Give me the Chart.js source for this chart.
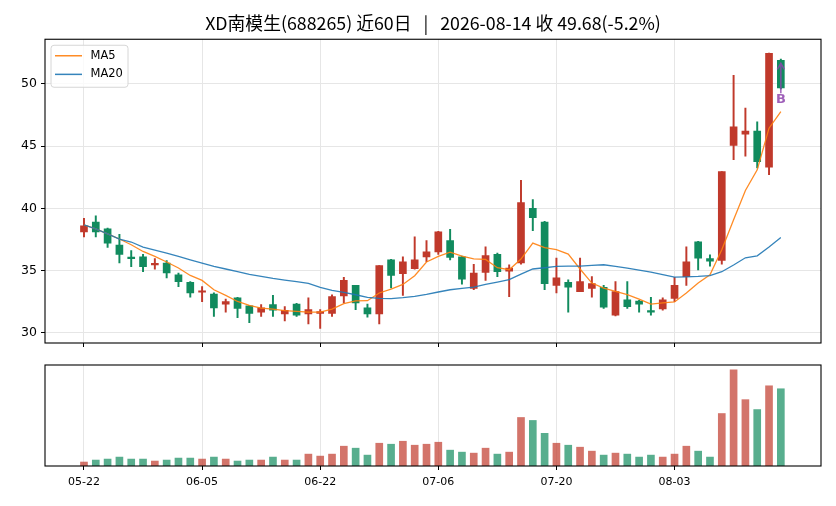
<!DOCTYPE html>
<html>
<head>
<meta charset="utf-8">
<script src="https://cdn.jsdelivr.net/npm/chart.js@4.4.1/dist/chart.umd.min.js"></script>
<style>
  html, body { margin: 0; padding: 0; background: #fff; }
  #wrap { position: relative; width: 836px; height: 506px; }
  #priceBox { position: absolute; left: 0; top: 0; width: 836px; height: 350px; }
  #volBox { position: absolute; left: 0; top: 350px; width: 836px; height: 156px; }
</style>
</head>
<body>
<div id="wrap">
  <div id="priceBox"><canvas id="price"></canvas></div>
  <div id="volBox"><canvas id="vol"></canvas></div>
</div>
<script>
// 60 trading days, 2026-05-22 .. 2026-08-14
const dates = [
  '05-22', '05-25', '05-26', '05-27', '05-28', '05-29', '06-01', '06-02', '06-03', '06-04',
  '06-05', '06-08', '06-09', '06-10', '06-11', '06-12', '06-15', '06-16', '06-17', '06-18',
  '06-22', '06-23', '06-24', '06-25', '06-26', '06-29', '06-30', '07-01', '07-02', '07-03',
  '07-06', '07-07', '07-08', '07-09', '07-10', '07-13', '07-14', '07-15', '07-16', '07-17',
  '07-20', '07-21', '07-22', '07-23', '07-24', '07-27', '07-28', '07-29', '07-30', '07-31',
  '08-03', '08-04', '08-05', '08-06', '08-07', '08-10', '08-11', '08-12', '08-13', '08-14'
];
const opens = [
  38.1, 38.9, 38.35, 37.05, 36.0, 36.1, 35.45, 35.6, 34.65, 34.05,
  33.25, 33.1, 32.3, 32.8, 32.15, 31.65, 32.25, 31.5, 32.3, 31.5,
  31.55, 31.55, 32.95, 33.8, 32.0, 31.5, 35.85, 34.75, 35.15, 36.1,
  36.5, 37.4, 36.1, 33.55, 34.85, 36.3, 34.95, 35.6, 40.0, 38.9,
  33.8, 34.05, 33.3, 33.55, 33.65, 31.4, 32.65, 32.55, 31.75, 31.9,
  32.75, 34.5, 37.3, 35.95, 35.8, 45.05, 45.95, 46.2, 43.3, 51.9
];
const highs = [
  39.2, 39.4, 38.4, 37.9, 36.6, 36.3, 35.95, 35.8, 34.8, 34.1,
  33.7, 33.2, 32.7, 32.85, 32.2, 32.25, 33.0, 32.1, 32.35, 32.8,
  31.85, 33.05, 34.45, 33.8, 32.3, 35.4, 35.9, 36.1, 37.7, 37.4,
  38.15, 38.3, 36.15, 35.5, 36.9, 36.4, 35.45, 42.25, 40.7, 38.95,
  36.0, 34.25, 36.0, 34.5, 33.8, 34.1, 34.1, 32.6, 32.85, 32.8,
  34.45, 36.9, 37.35, 36.25, 42.95, 50.7, 48.05, 46.95, 52.48, 52.0
];
const lows = [
  37.7, 37.7, 36.85, 35.6, 35.3, 34.9, 35.1, 34.4, 33.7, 32.85,
  32.5, 31.3, 31.65, 31.2, 30.8, 31.3, 31.3, 30.95, 31.3, 30.7,
  30.35, 31.3, 32.4, 31.85, 31.25, 30.7, 33.6, 33.0, 35.1, 35.7,
  36.3, 35.85, 33.9, 33.45, 34.2, 34.5, 32.9, 35.5, 38.2, 33.45,
  33.2, 31.65, 33.3, 32.85, 31.95, 31.35, 31.95, 31.65, 31.4, 31.8,
  32.5, 33.8, 35.05, 35.35, 35.5, 43.9, 44.2, 43.25, 42.7, 49.6
];
const closes = [
  38.6, 38.1, 37.2, 36.3, 35.95, 35.3, 35.5, 34.8, 34.1, 33.2,
  33.3, 32.0, 32.5, 31.95, 31.55, 32.0, 31.8, 31.8, 31.4, 31.85,
  31.7, 32.9, 34.2, 32.4, 31.5, 35.4, 34.6, 35.7, 35.85, 36.5,
  38.1, 36.05, 34.3, 34.8, 36.2, 34.9, 35.2, 40.45, 39.25, 33.95,
  34.4, 33.65, 34.1, 33.95, 32.05, 33.3, 32.1, 32.3, 31.65, 32.65,
  33.8, 35.7, 36.0, 35.75, 42.95, 46.55, 46.2, 43.75, 52.45, 49.68
];
const ma5 = [
  38.67, 38.35, 37.95, 37.53, 37.07, 36.53, 36.13, 35.68, 35.2, 34.6,
  34.2, 33.45, 33.0, 32.51, 32.19, 31.98, 31.9, 31.77, 31.71, 31.66,
  31.66, 31.9, 32.33, 32.55, 32.57, 33.19, 33.51, 33.88, 34.58, 35.68,
  36.13, 36.48, 36.16, 35.94, 35.89, 35.22, 35.06, 35.92, 37.2, 36.83,
  36.67, 36.32, 35.12, 33.99, 33.59, 33.32, 33.05, 32.7, 32.3, 32.39,
  32.47, 33.19, 33.99, 34.66, 36.67, 39.08, 41.43, 43.09, 46.44, 47.78
];
const ma20 = [
  38.67, 38.35, 37.95, 37.53, 37.29, 36.88, 36.64, 36.4, 36.13, 35.86,
  35.6, 35.33, 35.12, 34.9, 34.68, 34.52, 34.36, 34.23, 34.1, 33.97,
  33.64, 33.4, 33.24, 33.05, 32.84, 32.76, 32.73, 32.81, 32.92, 33.08,
  33.27, 33.45, 33.56, 33.67, 33.88, 34.07, 34.26, 34.71, 35.12, 35.22,
  35.33, 35.35, 35.35, 35.41, 35.46, 35.33, 35.19, 35.03, 34.87, 34.66,
  34.47, 34.49, 34.52, 34.58, 34.9, 35.44, 36.02, 36.18, 36.88, 37.65
];
const volumes = [
  4, 6, 7, 9, 7, 7, 5, 6, 8, 8,
  7, 9, 7, 5, 6, 6, 9, 6, 6, 12,
  10, 12, 20, 18, 11, 23, 22, 25, 21, 22,
  24, 16, 14, 13, 18, 12, 14, 49, 46, 33,
  23, 21, 19, 15, 11, 13, 12, 9, 11, 9,
  12, 20, 15, 9, 53, 97, 67, 57, 81, 78
];
const tickIdx = [0, 10, 20, 30, 40, 50];
const priceTicks = [30, 35, 40, 45, 50];
const titleText = 'XD南模生(688265) 近60日   |   2026-08-14 收 49.68(-5.2%)';

// buy marker on the last bar
const markIdx = 59;
const markTip = 51.66;
const markTail = 49.25;
const markText = 48.7;

const upColor = '#c0392b';
const downColor = '#118b5e';
const upVol = 'rgba(192,57,43,0.7)';
const downVol = 'rgba(17,139,94,0.7)';
const gridColor = '#e6e6e6';

Chart.defaults.font.family = '"DejaVu Sans", "Noto Sans CJK SC", sans-serif';
Chart.defaults.color = '#000';

const isUp = closes.map((c, i) => c >= opens[i]);
const candleColors = isUp.map(u => u ? upColor : downColor);
const volColors = isUp.map(u => u ? upVol : downVol);

const frame = {
  id: 'frame',
  afterDraw(chart) {
    const a = chart.chartArea;
    const ctx = chart.ctx;
    ctx.save();
    ctx.strokeStyle = '#000';
    ctx.lineWidth = 1.1;
    ctx.strokeRect(a.left, a.top, a.right - a.left, a.bottom - a.top);
    ctx.restore();
  }
};

const legendBox = {
  id: 'legendBox',
  afterDraw(chart) {
    const a = chart.chartArea;
    const ctx = chart.ctx;
    const x0 = a.left + 6, y0 = a.top + 6;
    ctx.save();
    ctx.beginPath();
    ctx.roundRect(x0, y0, 77, 42, 3);
    ctx.fillStyle = 'rgba(255,255,255,0.8)';
    ctx.fill();
    ctx.strokeStyle = '#d6d6d6';
    ctx.lineWidth = 1;
    ctx.stroke();
    const items = [['MA5', 'rgba(255,127,14,0.9)'], ['MA20', 'rgba(31,119,180,0.9)']];
    items.forEach((it, k) => {
      const y = y0 + 10.5 + k * 18.6;
      ctx.strokeStyle = it[1];
      ctx.lineWidth = 1.5;
      ctx.beginPath();
      ctx.moveTo(x0 + 4, y);
      ctx.lineTo(x0 + 31, y);
      ctx.stroke();
      ctx.fillStyle = '#000';
      ctx.font = '11.5px "DejaVu Sans", sans-serif';
      ctx.textBaseline = 'middle';
      ctx.fillText(it[0], x0 + 39.5, y);
    });
    ctx.restore();
  }
};

const marker = {
  id: 'marker',
  afterDatasetsDraw(chart) {
    const xs = chart.scales.x, ys = chart.scales.y;
    const ctx = chart.ctx;
    const x = xs.getPixelForValue(markIdx);
    const yTip = ys.getPixelForValue(markTip);
    const yTail = ys.getPixelForValue(markTail);
    const yTxt = ys.getPixelForValue(markText);
    ctx.save();
    ctx.strokeStyle = 'rgba(142,68,173,0.85)';
    ctx.lineWidth = 1.5;
    ctx.beginPath();
    ctx.moveTo(x, yTail);
    ctx.lineTo(x, yTip);
    ctx.moveTo(x - 3.5, yTip + 6);
    ctx.lineTo(x, yTip);
    ctx.lineTo(x + 3.5, yTip + 6);
    ctx.stroke();
    ctx.fillStyle = 'rgba(142,68,173,0.85)';
    ctx.font = 'bold 13px "DejaVu Sans", sans-serif';
    ctx.textAlign = 'center';
    ctx.textBaseline = 'middle';
    ctx.fillText('B', x, yTxt);
    ctx.restore();
  }
};

const xMin = -3.3, xMax = 62.4;

new Chart(document.getElementById('price'), {
  type: 'bar',
  data: {
    datasets: [
      {
        label: 'wick',
        data: dates.map((d, i) => ({ x: i, y: [lows[i], highs[i]] })),
        backgroundColor: candleColors,
        barThickness: 1.3,
        grouped: false,
        order: 4
      },
      {
        label: 'body',
        data: dates.map((d, i) => ({ x: i, y: [opens[i], closes[i]] })),
        backgroundColor: candleColors,
        barThickness: 7,
        minBarLength: 1.5,
        grouped: false,
        order: 3
      },
      {
        type: 'line',
        label: 'MA5',
        data: ma5.map((v, i) => ({ x: i, y: v })),
        borderColor: 'rgba(255,127,14,0.9)',
        borderWidth: 1.3,
        pointRadius: 0,
        tension: 0,
        order: 2
      },
      {
        type: 'line',
        label: 'MA20',
        data: ma20.map((v, i) => ({ x: i, y: v })),
        borderColor: 'rgba(31,119,180,0.9)',
        borderWidth: 1.3,
        pointRadius: 0,
        tension: 0,
        order: 1
      }
    ]
  },
  options: {
    responsive: true,
    maintainAspectRatio: false,
    animation: false,
    layout: { padding: { left: 0, right: 15, top: 0, bottom: 0 } },
    plugins: {
      legend: { display: false },
      tooltip: { enabled: false },
      title: {
        display: true,
        fullSize: false,
        text: titleText,
        color: '#000',
        font: { family: '"Noto Sans CJK SC", sans-serif', size: 17.8, weight: 'normal', lineHeight: 1.2 },
        padding: { top: 12.5, bottom: 5.4 }
      }
    },
    scales: {
      x: {
        type: 'linear',
        min: xMin,
        max: xMax,
        offset: false,
        afterBuildTicks: s => { s.ticks = tickIdx.map(v => ({ value: v })); },
        afterFit: s => { s.height = 7; s.paddingLeft = 0; s.paddingRight = 0; },
        ticks: { display: false },
        grid: { color: gridColor, offset: false, tickColor: '#000', tickLength: 4 },
        border: { display: false }
      },
      y: {
        min: 29.17,
        max: 53.59,
        afterBuildTicks: s => { s.ticks = priceTicks.map(v => ({ value: v })); },
        afterFit: s => { s.width = 45; s.paddingTop = 0; s.paddingBottom = 0; },
        ticks: { font: { size: 12.5 }, padding: 4, color: '#000' },
        grid: { color: gridColor, tickColor: '#000', tickLength: 4 },
        border: { display: false }
      }
    }
  },
  plugins: [frame, marker, legendBox]
});

new Chart(document.getElementById('vol'), {
  type: 'bar',
  data: {
    datasets: [{
      label: 'volume',
      data: volumes.map((v, i) => ({ x: i, y: v })),
      backgroundColor: volColors,
      barThickness: 7,
      grouped: false
    }]
  },
  options: {
    responsive: true,
    maintainAspectRatio: false,
    animation: false,
    layout: { padding: { left: 0, right: 15, top: 15, bottom: 0 } },
    plugins: { legend: { display: false }, tooltip: { enabled: false } },
    scales: {
      x: {
        type: 'linear',
        min: xMin,
        max: xMax,
        offset: false,
        afterBuildTicks: s => { s.ticks = tickIdx.map(v => ({ value: v })); },
        afterFit: s => { s.height = 40; s.paddingLeft = 0; s.paddingRight = 0; },
        ticks: { font: { size: 11 }, padding: 6, color: '#000', maxRotation: 0, callback: v => dates[v] },
        grid: { color: gridColor, offset: false, tickColor: '#000', tickLength: 4 },
        border: { display: false }
      },
      y: {
        min: 0,
        max: 102,
        afterFit: s => { s.width = 45; s.paddingTop = 0; s.paddingBottom = 0; },
        ticks: { display: false },
        grid: { display: false },
        border: { display: false }
      }
    }
  },
  plugins: [frame]
});
</script>
</body>
</html>
